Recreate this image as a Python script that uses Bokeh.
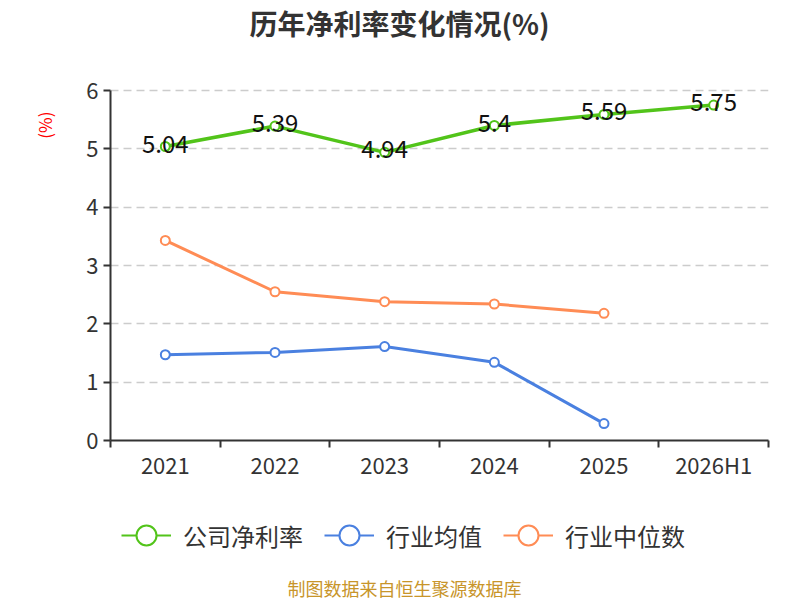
from bokeh.plotting import figure
from bokeh.layouts import column
from bokeh.models import (Range1d, FixedTicker, Legend, LegendItem, ColumnDataSource,
                          Title, LinearAxis, Label)
from bokeh.core.properties import value
from bokeh.embed import file_html
from bokeh.resources import INLINE

categories = ["2021", "2022", "2023", "2024", "2025", "2026H1"]
company = [5.04, 5.39, 4.94, 5.40, 5.59, 5.75]
industry_avg = [1.47, 1.51, 1.61, 1.34, 0.29]
industry_median = [3.43, 2.55, 2.38, 2.34, 2.18]
company_labels = ["5.04", "5.39", "4.94", "5.4", "5.59", "5.75"]
series_names = ["公司净利率", "行业均值", "行业中位数"]
y_ticks = [0, 1, 2, 3, 4, 5, 6]

FONT = "Noto Sans CJK SC"
GREEN = "#52c41a"
BLUE = "#4a80e0"
ORANGE = "#ff8c55"
W = 800
TOP_H, MAIN_H, BOT_H = 72, 428, 100
FRAME_H = 368          # frame height of main chart (0..6 take 350 px)
Y_MAX = 6 * FRAME_H / 350


def blank(height):
    f = figure(width=W, height=height, output_backend="svg", toolbar_location=None,
               x_range=Range1d(0, 1), y_range=Range1d(0, 1),
               min_border=0, min_border_left=0, min_border_right=0,
               min_border_top=0, min_border_bottom=0)
    f.axis.visible = False
    f.grid.visible = False
    f.outline_line_color = None
    return f


# ---------- title strip (frame aligned with main chart frame: starts at x=110) ----------
top = blank(TOP_H)
top.add_layout(Label(x=289, y=TOP_H - 22, x_units="screen", y_units="screen",
                     text="历年净利率变化情况(%)", text_font=FONT, text_font_size="28px",
                     text_font_style="bold", text_color="#333333",
                     text_align="center", text_baseline="middle"))

# ---------- main chart ----------
xs_all = [i + 0.5 for i in range(len(categories))]

p = figure(width=W, height=MAIN_H, output_backend="svg", toolbar_location=None,
           x_range=Range1d(0, len(categories)), y_range=Range1d(0, Y_MAX),
           min_border_left=110, min_border_right=32, min_border_top=0,
           min_border_bottom=MAIN_H - FRAME_H)
p.outline_line_color = None


def spacer(size):
    return LinearAxis(ticker=FixedTicker(ticks=[3]), major_label_overrides={3: ""},
                      axis_line_color=None, major_tick_out=size, major_tick_in=0,
                      minor_tick_out=0, minor_tick_in=0, major_tick_line_color=None,
                      minor_tick_line_color=None, major_label_standoff=0)


p.xaxis.ticker = FixedTicker(ticks=xs_all, minor_ticks=list(range(len(categories) + 1)))
p.xaxis.major_label_overrides = {x: c for x, c in zip(xs_all, categories)}
p.xaxis.major_tick_out = 0
p.xaxis.major_tick_in = 0
p.xaxis.minor_tick_out = 7
p.xaxis.minor_tick_in = 0
p.xaxis.minor_tick_line_color = "#333333"
p.xaxis.minor_tick_line_width = 2
p.xaxis.major_label_standoff = 0
p.yaxis.ticker = FixedTicker(ticks=y_ticks)
p.yaxis.bounds = (0, 6)
p.yaxis.major_tick_out = 7
p.yaxis.major_tick_in = 0
p.yaxis.minor_tick_out = 0
p.yaxis.minor_tick_in = 0
p.yaxis.major_label_standoff = 5
for ax in (p.xaxis, p.yaxis):
    ax.axis_line_color = "#333333"
    ax.axis_line_width = 2
    ax.major_tick_line_color = "#333333"
    ax.major_tick_line_width = 2
    ax.major_label_text_font = FONT
    ax.major_label_text_font_size = "22px"
    ax.major_label_text_color = "#333333"

p.xgrid.grid_line_color = None
p.ygrid.ticker = FixedTicker(ticks=y_ticks)
p.ygrid.grid_line_color = "#cccccc"
p.ygrid.grid_line_width = 1.5
p.ygrid.grid_line_dash = "8 5"

src_c = ColumnDataSource(dict(x=xs_all, y=company, t=company_labels))
src_a = ColumnDataSource(dict(x=xs_all[:len(industry_avg)], y=industry_avg))
src_m = ColumnDataSource(dict(x=xs_all[:len(industry_median)], y=industry_median))

styles = [(GREEN, 3.5), (BLUE, 3), (ORANGE, 3)]
sources = (src_c, src_a, src_m)
for src, (col, lw) in zip(sources, styles):
    p.line("x", "y", source=src, line_color=col, line_width=lw)
    p.scatter("x", "y", source=src, size=9, fill_color="white", line_color=col, line_width=2)

p.text("x", "y", text="t", source=src_c, text_font=value(FONT), text_font_size="24px",
       text_color="#111111", text_align="center", text_baseline="middle", y_offset=-3)

p.add_layout(spacer(22), "left")
p.add_layout(Title(text="(%)", align="right", offset=21 + (FRAME_H - 350), text_font=FONT,
                   text_font_size="17px", text_font_style="normal", text_color="#ff0000"), "left")

# ---------- legend + source strip (frame starts at x=110) ----------
bot = blank(BOT_H)
items = []
for name, src, (col, lw) in zip(series_names, sources, styles):
    r1 = bot.line("x", "y", source=src, line_color=col, line_width=2, visible=False)
    r2 = bot.scatter("x", "y", source=src, fill_color="white", line_color=col, line_width=2,
                     visible=False)
    items.append(LegendItem(label=name, renderers=[r1, r2]))
legend = Legend(items=items, orientation="horizontal", location=(11, 40), padding=0, margin=0,
                spacing=21, label_standoff=12, glyph_width=50, glyph_height=50,
                border_line_alpha=0, background_fill_alpha=0, inactive_fill_alpha=0,
                label_text_font=FONT, label_text_font_size="24px", label_text_color="#333333",
                label_text_baseline="middle")
bot.add_layout(legend, "center")
bot.add_layout(Label(x=294, y=13, x_units="screen", y_units="screen",
                     text="制图数据来自恒生聚源数据库", text_font=FONT, text_font_size="18px",
                     text_color="#c8952a", text_align="center", text_baseline="middle"))

layout = column(top, p, bot, spacing=0)
open("out.html", "w").write(file_html(layout, INLINE))
